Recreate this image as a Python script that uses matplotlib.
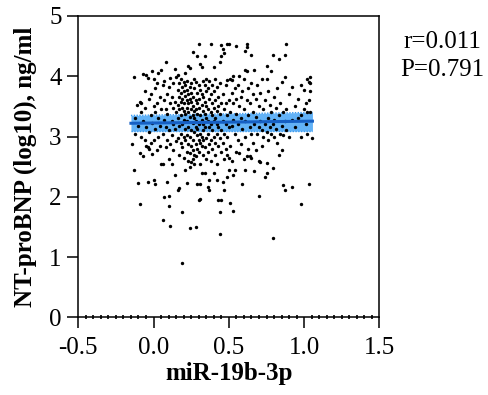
import matplotlib
matplotlib.use("Agg")
import matplotlib.pyplot as plt
from matplotlib.ticker import MultipleLocator
import numpy as np

# miR-19b-3p expression (x) vs NT-proBNP log10 (y)
cols = {
    -0.14: [2.88], -0.13: [3.98, 2.45], -0.12: [3.30, 3.05], -0.11: [3.52],
    -0.10: [2.23, 3.18], -0.09: [3.58, 1.88, 2.72], -0.08: [3.55, 3.00, 3.40],
    -0.07: [4.03, 2.68, 3.25], -0.06: [3.75, 2.95, 3.48], -0.05: [4.02, 2.85, 3.15],
    -0.04: [3.97, 2.25, 2.83], -0.03: [3.62, 3.08, 2.80], -0.02: [3.35, 2.90, 3.70],
    -0.01: [4.09, 2.71, 3.22], 0.00: [2.28, 3.50, 3.95, 2.95], 0.01: [2.22, 3.80, 3.12, 3.40],
    0.02: [3.55, 2.78, 3.88], 0.03: [3.30, 4.05, 3.00], 0.04: [3.65, 2.85, 3.18],
    0.05: [4.11, 3.45, 2.55],
    0.06: [2.54, 1.61, 3.85, 3.05], 0.07: [2.00, 3.60, 3.28, 3.92], 0.08: [4.24, 2.82, 3.45, 3.15],
    0.09: [2.25, 3.70, 2.95, 3.38], 0.10: [2.01, 1.85, 3.82, 3.10, 2.62], 0.11: [1.52, 3.55, 3.97, 2.88],
    0.12: [2.55, 3.25, 3.65, 3.02], 0.13: [3.48, 2.78, 3.88, 3.20], 0.14: [2.36, 3.58, 3.12, 4.12],
    0.15: [3.99, 2.92, 3.40],
    0.16: [3.52, 2.98, 3.78, 2.11, 3.30, 4.02], 0.17: [3.65, 3.18, 2.70, 3.45, 3.88, 2.14],
    0.18: [3.72, 3.35, 2.90, 3.58, 3.05, 3.95], 0.19: [0.90, 1.75, 3.62, 3.20, 2.82, 3.48, 3.82],
    0.20: [3.42, 3.00, 3.75, 2.65, 3.28, 3.90, 3.55], 0.21: [2.44, 3.68, 3.12, 3.85, 2.95, 3.38, 4.05],
    0.22: [2.23, 3.60, 3.25, 3.78, 2.75, 3.48, 3.02, 3.92], 0.23: [4.17, 3.70, 3.40, 2.88, 3.15, 3.55, 2.60],
    0.24: [1.48, 4.13, 3.82, 3.32, 2.50, 3.00, 3.62, 2.72], 0.25: [3.58, 3.10, 3.88, 2.85, 3.45, 2.58, 3.72],
    0.26: [4.41, 3.35, 2.95, 3.65, 2.78, 3.22, 3.50, 2.62], 0.27: [3.95, 3.42, 2.70, 3.08, 3.80, 2.55, 3.30],
    0.28: [1.50, 3.60, 3.15, 2.88, 3.45, 2.68, 3.90, 3.25], 0.29: [4.34, 2.22, 3.72, 3.02, 3.38, 2.80, 3.55, 3.12],
    0.30: [4.54, 1.95, 3.48, 2.95, 3.85, 3.20, 2.75, 3.62], 0.31: [4.21, 1.96, 2.21, 2.54, 3.35, 3.05, 3.78, 2.90],
    0.32: [4.16, 3.70, 3.28, 2.85, 3.52, 3.00, 2.40], 0.33: [3.92, 3.42, 3.10, 2.70, 3.65, 2.95, 3.20],
    0.34: [4.33, 2.39, 3.58, 3.15, 3.85, 2.82, 3.38], 0.35: [3.75, 3.30, 2.98, 3.50, 2.62, 3.95],
    0.36: [2.17, 3.45, 3.05, 3.80, 2.75, 3.25], 0.37: [2.28, 2.12, 3.62, 3.15, 3.92, 2.88],
    0.38: [4.54, 3.40, 2.95, 3.70, 3.20, 2.60], 0.39: [3.55, 3.10, 3.85, 2.80, 3.35],
    0.40: [4.16, 2.39, 3.48, 3.00, 3.75, 3.25], 0.41: [3.60, 2.90, 3.30, 3.95, 2.70],
    0.42: [2.28, 3.42, 3.05, 3.82, 2.55, 3.20], 0.43: [1.94, 3.65, 3.15, 2.85, 3.50],
    0.44: [4.24, 1.75, 1.39, 3.38, 2.98, 3.88], 0.45: [4.52, 4.33, 1.94, 3.55, 3.10, 2.75],
    0.46: [4.46, 2.25, 3.25, 3.70, 2.90], 0.47: [4.38, 2.12, 3.45, 3.05, 2.62],
    0.48: [3.85, 3.20, 2.80, 3.55], 0.49: [4.54, 3.94, 2.33, 3.35, 3.00, 2.70],
    0.50: [4.54, 2.44, 3.60, 3.15, 2.65], 0.51: [1.89, 3.40, 3.95, 2.85],
    0.52: [3.94, 3.18, 3.72, 2.60], 0.53: [4.01, 2.36, 3.28, 1.77, 3.55],
    0.54: [3.05, 3.80, 2.45], 0.55: [4.51, 2.75, 3.38, 3.62],
    0.56: [3.20, 2.95, 3.85], 0.57: [3.50, 2.72, 4.00], 0.58: [3.30, 2.88, 3.65],
    0.59: [2.22, 3.12, 3.75], 0.60: [3.45, 2.62, 3.95], 0.61: [4.42, 4.11, 2.44, 3.25, 3.00],
    0.62: [4.53, 4.49, 2.67, 3.60, 4.08], 0.63: [3.35, 2.80, 3.80], 0.64: [3.15, 2.68, 3.55],
    0.65: [4.36, 2.64, 3.05, 3.88],
    0.66: [3.40, 2.90, 3.70], 0.67: [4.10, 2.42, 3.20], 0.68: [3.62, 2.78, 3.32],
    0.69: [3.05, 3.85], 0.70: [2.01, 3.50, 3.15, 2.60], 0.71: [2.58, 3.72, 3.25],
    0.72: [3.10, 3.95, 2.85], 0.73: [3.45, 3.00], 0.74: [2.33, 3.60, 3.20],
    0.75: [4.17, 3.95, 2.56, 2.39, 3.08],
    0.76: [3.30, 2.95, 3.75], 0.77: [3.15, 3.52], 0.78: [4.09, 3.05, 3.40],
    0.79: [4.35, 1.31, 2.47, 3.20], 0.80: [3.65, 3.00, 3.28], 0.81: [3.48, 3.12],
    0.82: [3.80, 2.90], 0.83: [4.28, 2.69, 3.35], 0.84: [3.05, 3.55], 0.85: [2.77, 3.18, 3.90],
    0.86: [2.19, 3.40, 3.02], 0.87: [4.35, 3.98, 2.11, 3.25], 0.88: [4.54, 3.10, 3.45],
    0.90: [3.70, 3.00], 0.92: [2.16, 3.82, 3.28], 0.94: [3.50, 3.15],
    0.96: [3.30, 3.62], 0.98: [1.88, 3.00, 3.85, 3.35], 1.00: [3.45, 3.78],
    1.01: [3.20, 3.55], 1.02: [3.40, 3.95, 3.05], 1.03: [2.21, 3.60, 3.90],
    1.04: [3.98, 3.88, 3.75, 3.40], 1.055: [2.97],
}
mir = [x for x, ys in cols.items() for _ in ys]
ntprobnp = [y for ys in cols.values() for y in ys]

# fitted line and its confidence band, as drawn in the figure
fit_x = [-0.15, 1.055]
fit_y = [3.22, 3.255]
band_lo = [3.09, 3.09]
band_hi = [3.35, 3.40]

plt.rcParams['font.family'] = ['Liberation Serif', 'DejaVu Serif']

fig = plt.figure(figsize=(4.89, 3.95), dpi=100)
ax = fig.add_axes([0.160, 0.1967, 0.616, 0.7628])

ax.fill_between(fit_x, band_lo, band_hi, color='#62b2f7', lw=0, zorder=2)
ax.plot(fit_x, band_lo, color='#3d9cf0', lw=1, ls=(0, (1, 1)), zorder=2)
ax.plot(fit_x, band_hi, color='#3d9cf0', lw=1, ls=(0, (1, 1)), zorder=2)
ax.scatter(mir, ntprobnp, s=6, color='black', linewidths=0, zorder=3)
ax.plot(fit_x, fit_y, color='#1660c4', lw=2.2, zorder=4)

ax.set_xlim(-0.5, 1.5)
ax.set_ylim(0, 5)
ax.set_xticks([-0.5, 0.0, 0.5, 1.0, 1.5])
ax.set_xticklabels(['-0.5', '0.0', '0.5', '1.0', '1.5'])
ax.set_yticks([0, 1, 2, 3, 4, 5])
ax.xaxis.set_minor_locator(MultipleLocator(0.05))

for s in ax.spines.values():
    s.set_linewidth(1.1)
ax.tick_params(axis='both', which='major', direction='out', length=8, width=1.1,
               labelsize=18)
ax.tick_params(axis='x', which='major', pad=6)
ax.tick_params(axis='y', which='major', pad=4)
ax.tick_params(axis='x', which='minor', direction='inout', length=2.5, width=1.2)

ax.set_xlabel('miR-19b-3p', fontsize=18, fontweight='bold', labelpad=2)
ax.set_ylabel('NT-proBNP (log10), ng/ml', fontsize=18, fontweight='bold', labelpad=9)

fig.text(0.904, 0.893, 'r=0.011', fontsize=18, ha='center', va='center')
fig.text(0.904, 0.823, 'P=0.791', fontsize=18, ha='center', va='center')

fig.savefig('out.png', dpi=100)
plt.close(fig)
